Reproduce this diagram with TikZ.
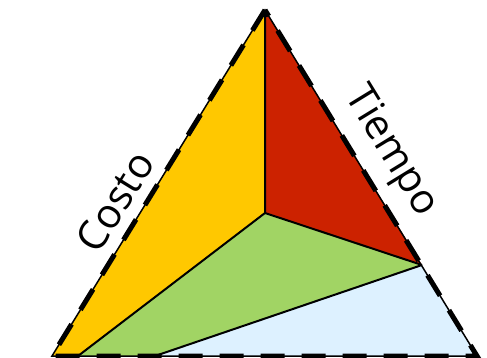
\documentclass[tikz,border=0pt]{standalone}
\usepackage{fontspec}
\setmainfont{Open Sans}
\definecolor{cyellow}{RGB}{255,200,0}
\definecolor{cred}{RGB}{204,34,0}
\definecolor{cgreen}{RGB}{161,212,100}
\definecolor{cblue}{RGB}{221,241,255}
\tikzset{
  inner/.style={line width=2pt, line join=round},
  lbl/.style={font=\fontsize{41}{48}\selectfont, inner sep=0pt, sloped}
}
\begin{document}
\begin{tikzpicture}[x=1pt,y=-1pt]
\useasboundingbox (0,0) rectangle (487,358);
\clip (0,0) rectangle (487,358);
\coordinate (A) at (265,10);
\coordinate (BL) at (52,356);
\coordinate (BR) at (477,356);
\coordinate (C) at (265,213);
\coordinate (R) at (422,265);
\coordinate (P) at (78,356);
\coordinate (Q) at (155,356);
\fill[cyellow] (A) -- (C) -- (P) -- (BL) -- cycle;
\fill[cred] (A) -- (R) -- (C) -- cycle;
\fill[cgreen] (C) -- (R) -- (Q) -- (P) -- cycle;
\fill[cblue] (R) -- (BR) -- (Q) -- cycle;
\draw[inner] (A) -- (C) (C) -- (R) (C) -- (P) (R) -- (Q);
\draw[line width=1.5pt, line join=miter] (A) -- (BL) -- (BR) -- cycle;
\draw[line width=5pt, dash pattern=on 24pt off 17pt] (A) -- (BL) -- (BR) -- cycle;
\path (BL) -- (A) node[lbl, pos=0.405, above=12pt] (costo) {Costo};
\path (A) -- (BR) node[lbl, pos=0.46, above=13pt] (tiempo) {Tiempo};
\end{tikzpicture}
\end{document}
